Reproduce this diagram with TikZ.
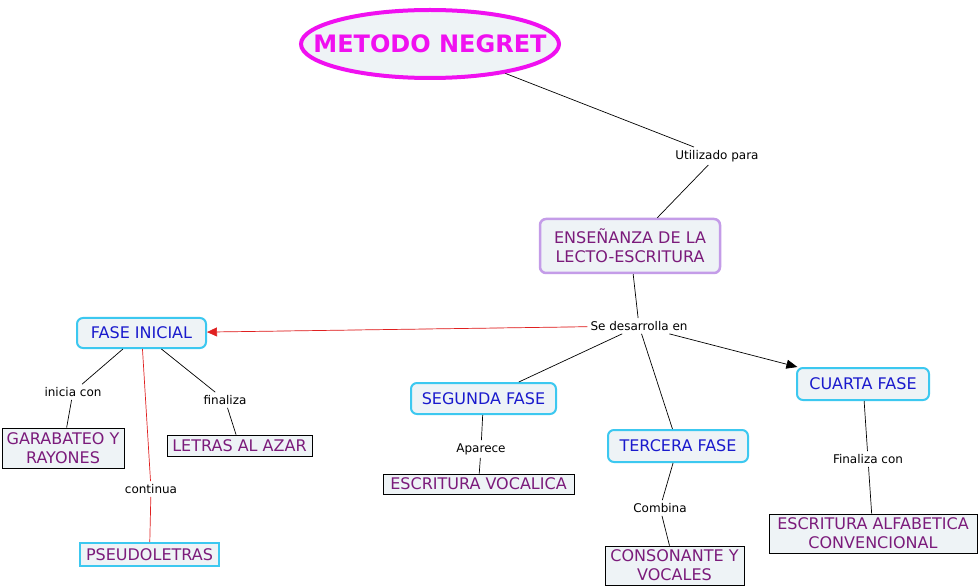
\documentclass[tikz,border=0pt]{standalone}
\usepackage{fontspec}
\setmainfont{DejaVu Sans}
\usetikzlibrary{arrows.meta,shapes.geometric}
\definecolor{nfill}{HTML}{EEF3F6}
\definecolor{magent}{HTML}{F010F0}
\definecolor{purp}{HTML}{7B1B7B}
\definecolor{blu}{HTML}{1A1ACD}
\definecolor{cyanb}{HTML}{3CC8F0}
\definecolor{lav}{HTML}{C49CE8}
\definecolor{redl}{HTML}{E02020}
\tikzset{
  x=1pt,y=-1pt,
  base/.style={align=center,inner sep=0pt,fill=nfill,font=\fontsize{16}{19}\selectfont},
  phase/.style={base,draw=cyanb,line width=2pt,rounded corners=6pt,text=blu},
  leaf/.style={base,draw=black,line width=0.8pt,text=purp},
  cleaf/.style={base,draw=cyanb,line width=2pt,text=purp},
  lab/.style={font=\fontsize{12}{14}\selectfont,inner sep=3pt,fill=white},
  conn/.style={draw=black,line width=0.7pt},
  rconn/.style={draw=redl,line width=0.7pt},
}
\begin{document}
\begin{tikzpicture}
\useasboundingbox (0,0) rectangle (978,588);
\fill[white] (0,0) rectangle (978,588);
% concepts
\node[ellipse,draw=magent,line width=4pt,fill=nfill,minimum width=258pt,minimum height=68pt,inner sep=0pt] (title) at (430,44) {};
\node[text=magent,font=\fontsize{24}{28}\selectfont\bfseries,inner sep=0pt] (titletext) at (title.center) {METODO NEGRET};
\node[base,draw=lav,line width=2.5pt,rounded corners=6pt,text=purp,minimum width=180pt,minimum height=54pt] (ens) at (630,246) {ENSEÑANZA DE LA\\LECTO-ESCRITURA};
\node[phase,minimum width=129pt,minimum height=30pt] (fi) at (141.5,333) {FASE INICIAL};
\node[phase,minimum width=145pt,minimum height=31pt] (seg) at (483.5,398.5) {SEGUNDA FASE};
\node[phase,minimum width=140pt,minimum height=32pt] (ter) at (678,446) {TERCERA FASE};
\node[phase,minimum width=132pt,minimum height=32pt] (cua) at (863,384) {CUARTA FASE};
\node[leaf,minimum width=122pt,minimum height=40pt] (gar) at (63,448) {GARABATEO Y\\RAYONES};
\node[leaf,minimum width=145pt,minimum height=21pt] (let) at (239.5,445.5) {LETRAS AL AZAR};
\node[cleaf,minimum width=139pt,minimum height=23pt] (pse) at (149.5,554.5) {PSEUDOLETRAS};
\node[leaf,minimum width=191pt,minimum height=20pt] (esv) at (478.5,484) {ESCRITURA VOCALICA};
\node[leaf,minimum width=139pt,minimum height=39pt] (con) at (674.5,565.5) {CONSONANTE Y\\VOCALES};
\node[leaf,minimum width=208pt,minimum height=39pt] (esa) at (873,533.5) {ESCRITURA ALFABETICA\\CONVENCIONAL};
% labels
\node[lab] (util) at (717,156) {Utilizado para};
\node[lab] (sede) at (639,326) {Se desarrolla en};
\node[lab] (inic) at (73,392) {inicia con};
\node[lab] (fina) at (225,400) {finaliza};
\node[lab] (cont) at (151,489) {continua};
\node[lab] (apar) at (481,449) {Aparece};
\node[lab] (comb) at (660,508) {Combina};
\node[lab] (fcon) at (868,459) {Finaliza con};
% connectors
\draw[conn] (title) -- (util);
\draw[conn] (util) -- (ens);
\draw[conn] (ens) -- (sede);
\draw[rconn,-{Triangle[length=10pt,width=9pt]},draw=redl,fill=redl] (sede) -- (fi);
\draw[conn] (sede) -- (seg);
\draw[conn] (sede) -- (ter);
\draw[conn,-{Triangle[length=11pt,width=9pt]}] (sede) -- (cua);
\draw[conn] (fi) -- (inic);
\draw[conn] (inic) -- (gar);
\draw[conn] (fi) -- (fina);
\draw[conn] (fina) -- (let);
\draw[rconn] (fi) -- (cont);
\draw[rconn] (cont) -- (pse);
\draw[conn] (seg) -- (apar);
\draw[conn] (apar) -- (esv);
\draw[conn] (ter) -- (comb);
\draw[conn] (comb) -- (con);
\draw[conn] (cua) -- (fcon);
\draw[conn] (fcon) -- (esa);
\end{tikzpicture}
\end{document}
